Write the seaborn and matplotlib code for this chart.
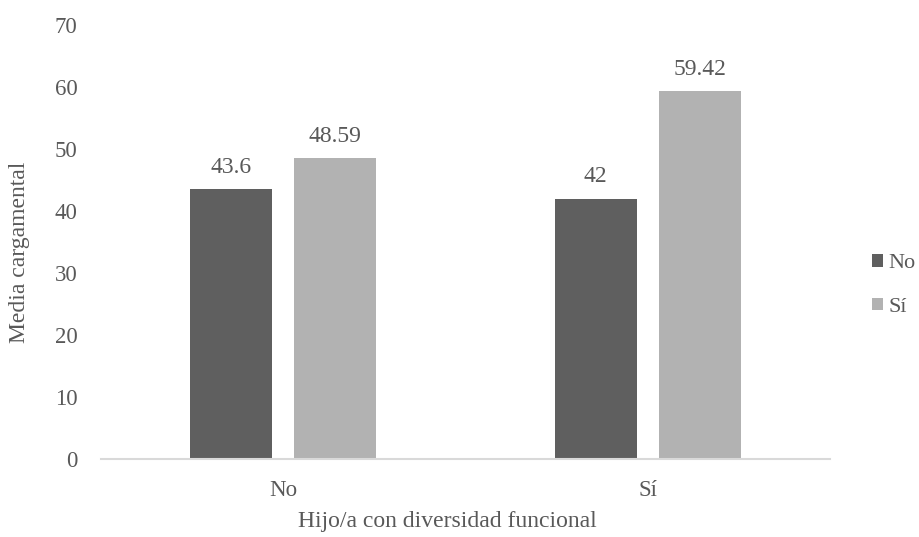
import pandas as pd
import seaborn as sns
import matplotlib.pyplot as plt

grupos = ["No", "Sí"]          # Hijo/a con diversidad funcional
leyenda = ["No", "Sí"]
valores_no = [43.6, 42]
valores_si = [48.59, 59.42]

df = pd.DataFrame({
    "grupo": grupos * 2,
    "serie": [leyenda[0]] * 2 + [leyenda[1]] * 2,
    "media": valores_no + valores_si,
})

sns.set_theme(style="white")
plt.rcParams["font.family"] = ["Liberation Serif", "DejaVu Serif"]
texto = "#595959"

fig = plt.figure(figsize=(9.2, 5.37), dpi=100)
ax = fig.add_axes([0.1098, 0.1453, 0.7925, 0.8081])

sns.barplot(data=df, x="grupo", y="media", hue="serie", order=grupos, hue_order=leyenda,
            palette=["#5f5f5f", "#b2b2b2"], width=0.571, gap=0.21, ax=ax,
            edgecolor="none", linewidth=0)

for c in ax.containers:
    ax.bar_label(c, fmt="%g", padding=8, fontsize=17, color=texto)

ax.set_ylim(0, 70)
ax.set_yticks(range(0, 71, 10))
ax.set_xlim(-0.5, 1.5)
ax.tick_params(axis="both", length=0, labelsize=16.5, labelcolor=texto)
ax.tick_params(axis="y", pad=17)
ax.tick_params(axis="x", pad=15)
ax.set_xlabel("Hijo/a con diversidad funcional", fontsize=17, color=texto, labelpad=7, x=0.475)
ax.set_ylabel("Media cargamental", fontsize=17, color=texto, labelpad=18, y=0.477)

sns.despine(ax=ax, left=True, top=True, right=True)
ax.spines["bottom"].set_color("#d9d9d9")
ax.spines["bottom"].set_linewidth(1.5)

ax.legend(loc="center left", bbox_to_anchor=(1.036, 0.4), frameon=False, fontsize=16,
          handlelength=0.5, handleheight=0.5, handletextpad=0.25, labelspacing=1.1,
          labelcolor=texto, borderaxespad=0.3)

fig.savefig("out.png", dpi=100)
